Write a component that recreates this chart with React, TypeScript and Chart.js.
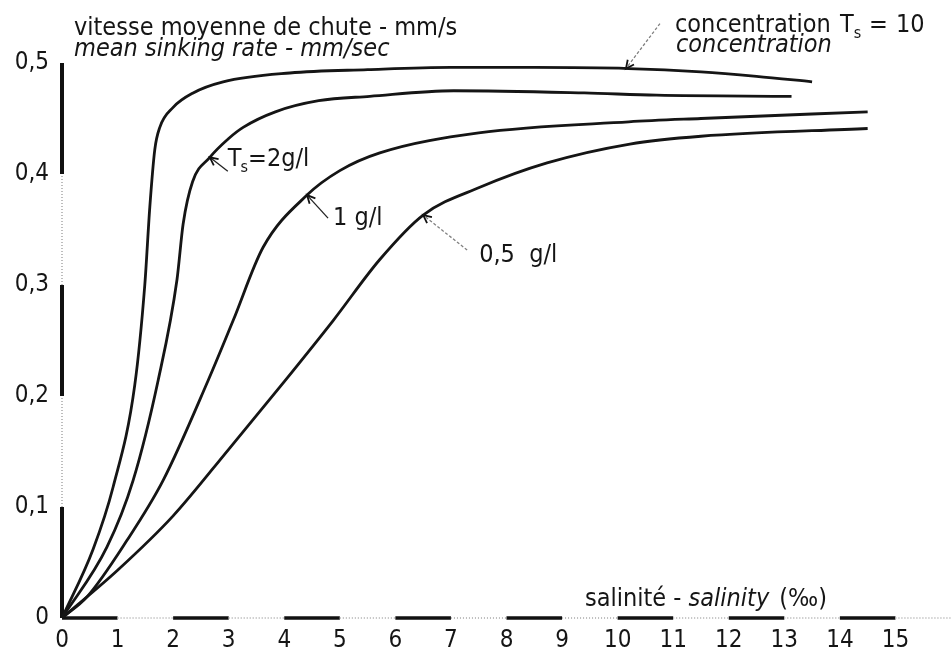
import React, { useEffect, useRef } from "react";
import { Chart, registerables } from "chart.js";

Chart.register(...registerables);

// ---- data (salinity ‰ -> mean sinking rate mm/s) ----
const salinityTs10 = [0, 0.56, 0.92, 1.31, 1.49, 1.58, 1.67, 1.76, 2.0, 2.36, 2.9, 4.1, 5.5, 7, 8.5, 10.2, 11.5, 12.5, 13.5];
const rateTs10 = [0, 0.062, 0.118, 0.21, 0.3, 0.37, 0.422, 0.442, 0.46, 0.473, 0.483, 0.491, 0.494, 0.496, 0.496, 0.495, 0.492, 0.488, 0.483];

const salinityTs2 = [0, 0.81, 1.28, 1.73, 2.07, 2.18, 2.35, 2.66, 3.0, 3.26, 3.84, 4.62, 5.54, 7.05, 9.4, 10.7, 13.13];
const rateTs2 = [0, 0.064, 0.124, 0.214, 0.305, 0.355, 0.393, 0.415, 0.432, 0.442, 0.456, 0.466, 0.47, 0.475, 0.473, 0.471, 0.47];

const salinityTs1 = [0, 0.45, 1.17, 1.82, 2.63, 3.08, 3.62, 4.41, 5.0, 5.72, 7.5, 10.2, 11.5, 14.5];
const rateTs1 = [0, 0.019, 0.07, 0.124, 0.214, 0.268, 0.334, 0.381, 0.403, 0.419, 0.437, 0.447, 0.45, 0.456];

const salinityTs05 = [0, 1.0, 2.0, 3.0, 4.0, 4.88, 5.72, 6.5, 7.52, 8.73, 10.22, 11.5, 14.5];
const rateTs05 = [0, 0.043, 0.092, 0.152, 0.213, 0.268, 0.323, 0.363, 0.388, 0.41, 0.427, 0.434, 0.441];

const xTickValues = [0, 1, 2, 3, 4, 5, 6, 7, 8, 9, 10, 11, 12, 13, 14, 15];
const yTickValues = [0, 0.1, 0.2, 0.3, 0.4, 0.5];

const FONT = "'DejaVu Sans Condensed', 'DejaVu Sans', sans-serif";
const SIZE = 24;
const TXT = 25;
const INK = "#151515";

function pts(xs: number[], ys: number[]) {
  return xs.map((x, i) => ({ x, y: ys[i] }));
}

function arrow(ctx: CanvasRenderingContext2D, x1: number, y1: number, x2: number, y2: number, dashed: boolean) {
  ctx.save();
  ctx.strokeStyle = dashed ? "#808080" : "#222";
  ctx.lineWidth = 1.3;
  if (dashed) ctx.setLineDash([3, 2]);
  ctx.beginPath();
  ctx.moveTo(x1, y1);
  ctx.lineTo(x2, y2);
  ctx.stroke();
  ctx.setLineDash([]);
  ctx.strokeStyle = "#111";
  ctx.lineWidth = 1.8;
  const a = Math.atan2(y2 - y1, x2 - x1);
  const L = 9;
  const w = 0.45;
  ctx.beginPath();
  ctx.moveTo(x2 - L * Math.cos(a - w), y2 - L * Math.sin(a - w));
  ctx.lineTo(x2, y2);
  ctx.lineTo(x2 - L * Math.cos(a + w), y2 - L * Math.sin(a + w));
  ctx.stroke();
  ctx.restore();
}

function text(ctx: CanvasRenderingContext2D, s: string, x: number, y: number, italic = false, size = TXT) {
  ctx.font = `${italic ? "italic " : ""}${size}px ${FONT}`;
  ctx.fillText(s, x, y);
  return x + ctx.measureText(s).width;
}

const axisBars = {
  id: "axisBars",
  beforeDatasetsDraw(chart: any) {
    const { ctx, chartArea, scales } = chart;
    const xs = scales.x;
    const ys = scales.y;
    ctx.save();
    for (let i = 0; i < 5; i++) {
      const y0 = ys.getPixelForValue(i / 10);
      const y1 = ys.getPixelForValue((i + 1) / 10);
      ctx.beginPath();
      if (i % 2 === 0) {
        ctx.strokeStyle = "#111";
        ctx.lineWidth = 4;
        ctx.setLineDash([]);
      } else {
        ctx.strokeStyle = "#bdbdbd";
        ctx.lineWidth = 2;
        ctx.setLineDash([1, 2]);
      }
      ctx.moveTo(chartArea.left, y0);
      ctx.lineTo(chartArea.left, y1);
      ctx.stroke();
    }
    for (let k = 0; k < 16; k++) {
      const x0 = xs.getPixelForValue(k);
      const x1 = xs.getPixelForValue(k + 1);
      ctx.beginPath();
      if (k % 2 === 0) {
        ctx.strokeStyle = "#111";
        ctx.lineWidth = 3.5;
        ctx.setLineDash([]);
      } else {
        ctx.strokeStyle = "#bdbdbd";
        ctx.lineWidth = 2;
        ctx.setLineDash([1, 2]);
      }
      ctx.moveTo(x0, chartArea.bottom);
      ctx.lineTo(x1, chartArea.bottom);
      ctx.stroke();
    }
    ctx.restore();
  },
  afterDatasetsDraw(chart: any) {
    const { ctx, scales } = chart;
    const X = (v: number) => scales.x.getPixelForValue(v);
    const Y = (v: number) => scales.y.getPixelForValue(v);
    ctx.save();
    ctx.fillStyle = INK;
    ctx.textBaseline = "alphabetic";
    ctx.textAlign = "left";

    // axis titles
    text(ctx, "vitesse moyenne de chute - mm/s", 74, 35);
    text(ctx, "mean sinking rate - mm/sec", 74, 56, true);

    // concentration header
    text(ctx, "concentration", 675, 32);
    let x = text(ctx, "T", 840, 32);
    text(ctx, "s", x, 38, false, 16);
    text(ctx, "=", 869, 32);
    text(ctx, "10", 896, 32);
    text(ctx, "concentration", 676, 52, true);

    // x-axis title
    x = text(ctx, "salinité - ", 585, 606);
    x = text(ctx, "salinity", x, 606, true);
    text(ctx, " (‰)", x + 3, 606);

    // curve labels + arrows
    const tA = { x: X(10.15), y: Y(0.495) };
    arrow(ctx, tA.x + 34, tA.y - 45, tA.x, tA.y, true);

    const tB = { x: X(2.66), y: Y(0.415) };
    arrow(ctx, tB.x + 18, tB.y + 14, tB.x, tB.y, false);
    x = text(ctx, "T", tB.x + 18, tB.y + 9);
    x = text(ctx, "s", x - 1, tB.y + 15, false, 16);
    text(ctx, "=2g/l", x, tB.y + 9);

    const tC = { x: X(4.41), y: Y(0.381) };
    arrow(ctx, tC.x + 21, tC.y + 23, tC.x, tC.y, false);
    text(ctx, "1 g/l", tC.x + 26, tC.y + 30);

    const tD = { x: X(6.5), y: Y(0.363) };
    arrow(ctx, tD.x + 44, tD.y + 35, tD.x, tD.y, true);
    text(ctx, "0,5", tD.x + 56, tD.y + 47);
    text(ctx, "g/l", tD.x + 106, tD.y + 47);

    ctx.restore();
  },
};

export default function App() {
  const ref = useRef<HTMLCanvasElement>(null);

  useEffect(() => {
    if (!ref.current) return;
    const line = (xs: number[], ys: number[], label: string) => ({
      label,
      data: pts(xs, ys),
      borderColor: INK,
      borderWidth: 2.8,
      pointRadius: 0,
      fill: false,
      cubicInterpolationMode: "monotone" as const,
      clip: false as any,
    });
    const chart = new Chart(ref.current, {
      type: "line",
      data: {
        datasets: [
          line(salinityTs10, rateTs10, "10 g/l"),
          line(salinityTs2, rateTs2, "2 g/l"),
          line(salinityTs1, rateTs1, "1 g/l"),
          line(salinityTs05, rateTs05, "0,5 g/l"),
        ],
      },
      options: {
        responsive: false,
        devicePixelRatio: 1,
        animation: false,
        layout: { padding: { top: 63, left: 0, right: 0, bottom: 0 } },
        plugins: { legend: { display: false }, tooltip: { enabled: false } },
        scales: {
          x: {
            type: "linear",
            min: 0,
            max: 16,
            grid: { display: false, drawTicks: false },
            border: { display: false },
            afterBuildTicks: (s: any) => {
              s.ticks = xTickValues.map((v) => ({ value: v }));
            },
            afterFit: (s: any) => {
              s.height = 32;
            },
            ticks: {
              autoSkip: false,
              maxRotation: 0,
              padding: 8,
              color: INK,
              font: { family: FONT, size: SIZE },
              callback: (v: any) => String(v),
            },
          },
          y: {
            type: "linear",
            min: 0,
            max: 0.5,
            grid: { display: false, drawTicks: false },
            border: { display: false },
            afterBuildTicks: (s: any) => {
              s.ticks = yTickValues.map((v) => ({ value: v }));
            },
            afterFit: (s: any) => {
              s.width = 62;
            },
            ticks: {
              padding: 13,
              color: INK,
              font: { family: FONT, size: SIZE },
              callback: (v: any) => (Number(v) === 0 ? "0" : Number(v).toFixed(1).replace(".", ",")),
            },
          },
        },
      },
      plugins: [axisBars],
    });
    return () => chart.destroy();
  }, []);

  return (
    <div style={{ position: "fixed", left: 0, top: 0, width: 951, height: 650, background: "#fff" }}>
      <canvas ref={ref} width={951} height={650} style={{ display: "block", width: 951, height: 650 }} />
    </div>
  );
}
